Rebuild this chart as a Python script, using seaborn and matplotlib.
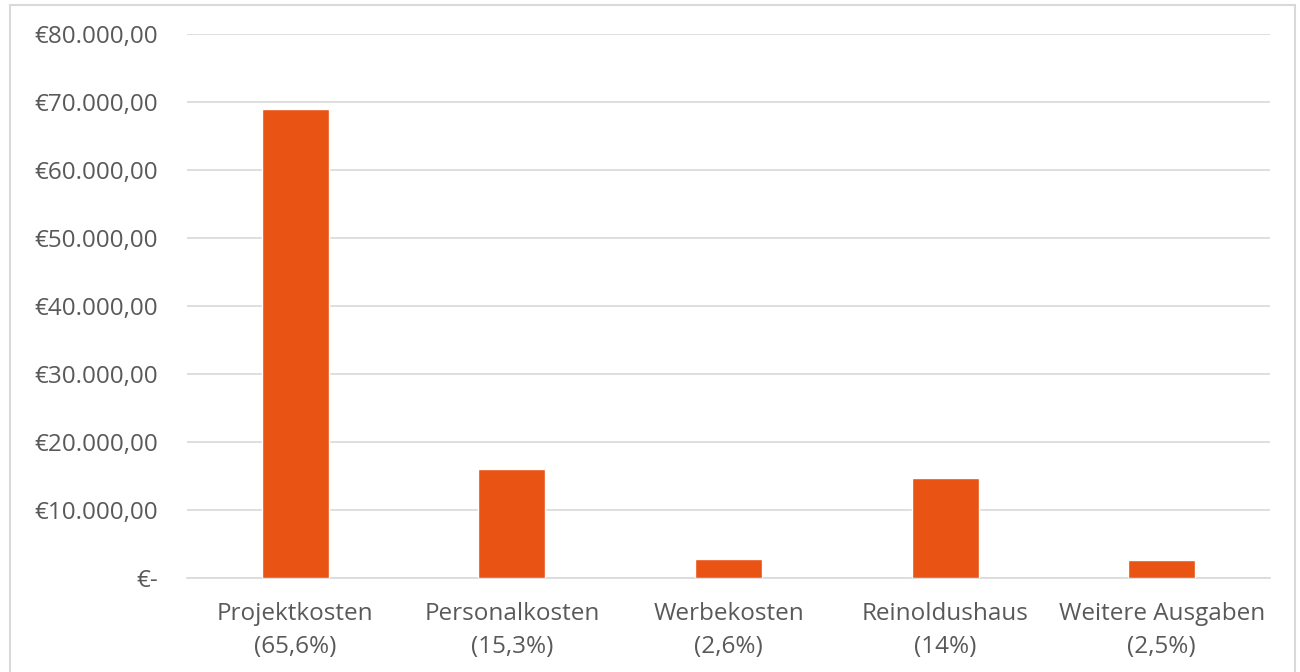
import matplotlib
matplotlib.use("Agg")
import matplotlib.pyplot as plt
from matplotlib.patches import Rectangle
from matplotlib.ticker import FuncFormatter
import seaborn as sns
import pandas as pd

# Daten
kategorien = ['Projektkosten\n(65,6%)', 'Personalkosten\n(15,3%)', 'Werbekosten\n(2,6%)',
              'Reinoldushaus\n(14%)', 'Weitere Ausgaben\n(2,5%)']
betraege = [68900, 16070, 2730, 14700, 2630]

df = pd.DataFrame({'kategorie': kategorien, 'betrag': betraege})

sns.set_theme(style='white')
plt.rcParams['font.family'] = ['Open Sans', 'DejaVu Sans']

fig = plt.figure(figsize=(13, 6.72), dpi=100)
ax = fig.add_axes([0.1438, 0.1399, 0.977 - 0.1438, 0.9494 - 0.1399])

sns.barplot(data=df, x='kategorie', y='betrag', color='#E95314', width=0.31,
            saturation=1, ax=ax, zorder=3)

ax.set_ylim(0, 80000)
ax.set_yticks(range(0, 80001, 10000))
ax.set_xlim(-0.5, 4.5)


def euro(v, pos):
    if v == 0:
        return '€-'
    return '€' + f'{v:,.2f}'.replace(',', 'X').replace('.', ',').replace('X', '.')


ax.yaxis.set_major_formatter(FuncFormatter(euro))
ax.grid(axis='y', color='#d9d9d9', linewidth=1.2, zorder=0)
for s in ['top', 'right', 'left']:
    ax.spines[s].set_visible(False)
ax.spines['bottom'].set_color('#d9d9d9')
ax.spines['bottom'].set_linewidth(1.2)
ax.tick_params(axis='both', length=0, labelsize=17.5, labelcolor='#595959')
ax.tick_params(axis='y', pad=21)
ax.tick_params(axis='x', pad=17)
for lbl in ax.get_xticklabels():
    lbl.set_linespacing(1.55)
ax.set_xlabel('')
ax.set_ylabel('')

# Rahmen
fig.patches.append(Rectangle((10 / 1300, -0.01), 1285 / 1300, 1 - 5 / 672 + 0.01,
                             transform=fig.transFigure, fill=False,
                             edgecolor='#d9d9d9', linewidth=1.5))

fig.savefig('out.png', dpi=100)
